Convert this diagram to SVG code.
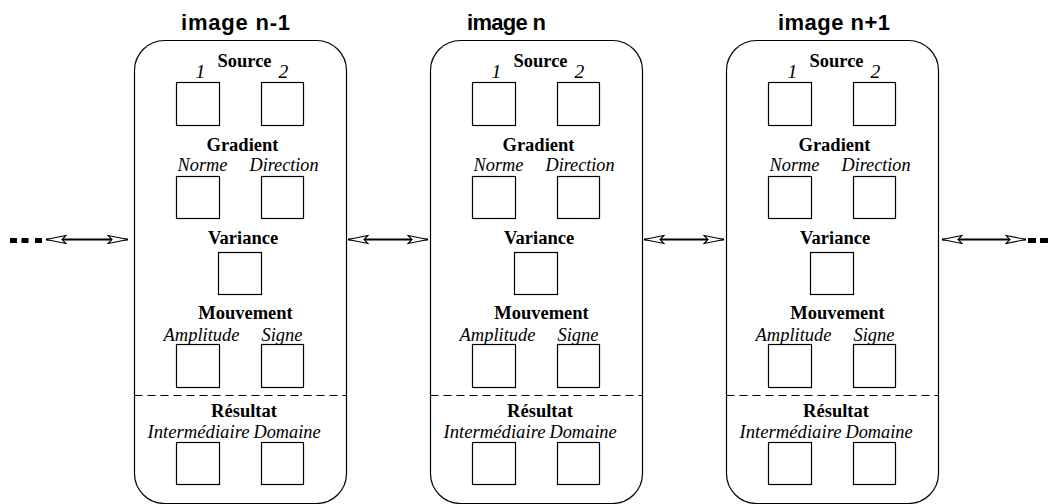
<svg xmlns="http://www.w3.org/2000/svg" width="1053" height="504" viewBox="0 0 1053 504">
<style>
.panel{fill:none;stroke:#000;stroke-width:1.2}
.sq{fill:#fff;stroke:#000;stroke-width:1.2}
.sep{stroke:#000;stroke-width:1.2;stroke-dasharray:8 5;fill:none}
.title{font-family:"Liberation Sans",Arial,sans-serif;font-weight:bold;font-size:22px;fill:#000}
.head{font-family:"Liberation Serif","Times New Roman",serif;font-weight:bold;font-size:18.5px;fill:#000;text-anchor:middle}
.lab{font-family:"Liberation Serif","Times New Roman",serif;font-style:italic;font-size:19.5px;fill:#000}
.conn{stroke:#000;stroke-width:2;fill:none;marker-start:url(#ah);marker-end:url(#ah)}
.dot{fill:#000}
</style>
<defs>
<marker id="ah" viewBox="-1 -6 23 12" refX="20" refY="0" markerWidth="23" markerHeight="12" markerUnits="userSpaceOnUse" orient="auto-start-reverse">
<path d="M0,-4 L20,0 L0,4 L4,0 Z" fill="#fff" stroke="#000" stroke-width="1.1"/>
</marker>
</defs>

<g id="image-n-1">
<text class="title" x="181" y="30" textLength="109" lengthAdjust="spacing">image n-1</text>
<g transform="translate(0.5,0.5)">
<rect class="panel" x="134" y="40" width="212" height="463" rx="30" ry="30"/>
<text class="head" x="244" y="66">Source</text>
<text class="lab" x="195" y="77">1</text>
<text class="lab" x="278" y="77">2</text>
<rect class="sq" x="176" y="82" width="43" height="43"/>
<rect class="sq" x="261" y="82" width="42" height="43"/>
<text class="head" x="242" y="150">Gradient</text>
<text class="lab" x="177" y="170" textLength="50" lengthAdjust="spacingAndGlyphs">Norme</text>
<text class="lab" x="249" y="170" textLength="69" lengthAdjust="spacingAndGlyphs">Direction</text>
<rect class="sq" x="176" y="176" width="43" height="42"/>
<rect class="sq" x="261" y="176" width="42" height="42"/>
<text class="head" x="242.5" y="243">Variance</text>
<rect class="sq" x="218" y="252" width="43" height="42"/>
<text class="head" x="245" y="318">Mouvement</text>
<text class="lab" x="163" y="340" textLength="76" lengthAdjust="spacingAndGlyphs">Amplitude</text>
<text class="lab" x="261" y="340" textLength="41" lengthAdjust="spacingAndGlyphs">Signe</text>
<rect class="sq" x="176" y="344" width="43" height="43"/>
<rect class="sq" x="261" y="344" width="42" height="43"/>
<line class="sep" x1="134" y1="395" x2="346" y2="395"/>
<text class="head" x="243.5" y="416">Résultat</text>
<text class="lab" x="147" y="437" textLength="102" lengthAdjust="spacingAndGlyphs">Intermédiaire</text>
<text class="lab" x="253" y="437" textLength="67" lengthAdjust="spacingAndGlyphs">Domaine</text>
<rect class="sq" x="176" y="442" width="43" height="42"/>
<rect class="sq" x="261" y="442" width="42" height="42"/>
</g>
</g>

<g id="image-n">
<text class="title" x="467" y="30" textLength="79" lengthAdjust="spacing">image n</text>
<g transform="translate(296.5,0.5)">
<rect class="panel" x="134" y="40" width="212" height="463" rx="30" ry="30"/>
<text class="head" x="244" y="66">Source</text>
<text class="lab" x="195" y="77">1</text>
<text class="lab" x="278" y="77">2</text>
<rect class="sq" x="176" y="82" width="43" height="43"/>
<rect class="sq" x="261" y="82" width="42" height="43"/>
<text class="head" x="242" y="150">Gradient</text>
<text class="lab" x="177" y="170" textLength="50" lengthAdjust="spacingAndGlyphs">Norme</text>
<text class="lab" x="249" y="170" textLength="69" lengthAdjust="spacingAndGlyphs">Direction</text>
<rect class="sq" x="176" y="176" width="43" height="42"/>
<rect class="sq" x="261" y="176" width="42" height="42"/>
<text class="head" x="242.5" y="243">Variance</text>
<rect class="sq" x="218" y="252" width="43" height="42"/>
<text class="head" x="245" y="318">Mouvement</text>
<text class="lab" x="163" y="340" textLength="76" lengthAdjust="spacingAndGlyphs">Amplitude</text>
<text class="lab" x="261" y="340" textLength="41" lengthAdjust="spacingAndGlyphs">Signe</text>
<rect class="sq" x="176" y="344" width="43" height="43"/>
<rect class="sq" x="261" y="344" width="42" height="43"/>
<line class="sep" x1="134" y1="395" x2="346" y2="395"/>
<text class="head" x="243.5" y="416">Résultat</text>
<text class="lab" x="147" y="437" textLength="102" lengthAdjust="spacingAndGlyphs">Intermédiaire</text>
<text class="lab" x="253" y="437" textLength="67" lengthAdjust="spacingAndGlyphs">Domaine</text>
<rect class="sq" x="176" y="442" width="43" height="42"/>
<rect class="sq" x="261" y="442" width="42" height="42"/>
</g>
</g>

<g id="image-n+1">
<text class="title" x="778" y="30" textLength="112" lengthAdjust="spacing">image n+1</text>
<g transform="translate(592.5,0.5)">
<rect class="panel" x="134" y="40" width="212" height="463" rx="30" ry="30"/>
<text class="head" x="244" y="66">Source</text>
<text class="lab" x="195" y="77">1</text>
<text class="lab" x="278" y="77">2</text>
<rect class="sq" x="176" y="82" width="43" height="43"/>
<rect class="sq" x="261" y="82" width="42" height="43"/>
<text class="head" x="242" y="150">Gradient</text>
<text class="lab" x="177" y="170" textLength="50" lengthAdjust="spacingAndGlyphs">Norme</text>
<text class="lab" x="249" y="170" textLength="69" lengthAdjust="spacingAndGlyphs">Direction</text>
<rect class="sq" x="176" y="176" width="43" height="42"/>
<rect class="sq" x="261" y="176" width="42" height="42"/>
<text class="head" x="242.5" y="243">Variance</text>
<rect class="sq" x="218" y="252" width="43" height="42"/>
<text class="head" x="245" y="318">Mouvement</text>
<text class="lab" x="163" y="340" textLength="76" lengthAdjust="spacingAndGlyphs">Amplitude</text>
<text class="lab" x="261" y="340" textLength="41" lengthAdjust="spacingAndGlyphs">Signe</text>
<rect class="sq" x="176" y="344" width="43" height="43"/>
<rect class="sq" x="261" y="344" width="42" height="43"/>
<line class="sep" x1="134" y1="395" x2="346" y2="395"/>
<text class="head" x="243.5" y="416">Résultat</text>
<text class="lab" x="147" y="437" textLength="102" lengthAdjust="spacingAndGlyphs">Intermédiaire</text>
<text class="lab" x="253" y="437" textLength="67" lengthAdjust="spacingAndGlyphs">Domaine</text>
<rect class="sq" x="176" y="442" width="43" height="42"/>
<rect class="sq" x="261" y="442" width="42" height="42"/>
</g>
</g>

<g id="ellipsis-left">
<rect class="dot" x="10" y="238" width="7" height="5"/>
<rect class="dot" x="21.5" y="238" width="7" height="5"/>
<rect class="dot" x="35" y="238" width="7" height="5"/>
</g>
<g id="ellipsis-right">
<rect class="dot" x="1028" y="238" width="8" height="5"/>
<rect class="dot" x="1040" y="238" width="8" height="5"/>
</g>

<g id="connectors">
<line class="conn" x1="46" y1="239.5" x2="128" y2="239.5"/>
<line class="conn" x1="348" y1="239.5" x2="428" y2="239.5"/>
<line class="conn" x1="644" y1="239.5" x2="724" y2="239.5"/>
<line class="conn" x1="942" y1="239.5" x2="1026" y2="239.5"/>
</g>
</svg>
